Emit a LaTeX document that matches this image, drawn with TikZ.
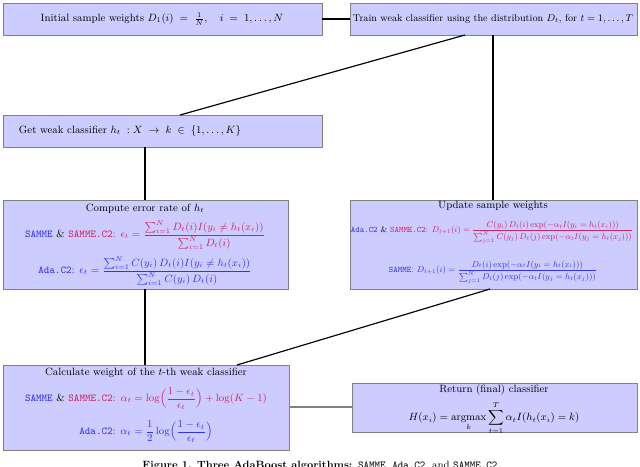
\documentclass[tikz,border=0pt]{standalone}
\usepackage{amsmath,graphicx}
\definecolor{bx}{HTML}{CCCCFF}
\definecolor{bd}{HTML}{808080}
\definecolor{cb}{HTML}{3333EE}
\definecolor{cr}{HTML}{CC2266}
\begin{document}
\begin{tikzpicture}[x=0.03cm,y=-0.03cm,
  box/.style={draw=bd,fill=bx,line width=0.8pt},
  lbl/.style={font=\small,inner sep=0pt},
  con/.style={line width=1pt}]
\useasboundingbox (0,0) rectangle (640,466);
\path[box] (3,3) rectangle (322,35);
\path[box] (350,3) rectangle (637,35);
\path[box] (3,115) rectangle (322,147);
\path[box] (3,200) rectangle (288,289);
\path[box] (350,200) rectangle (637,289);
\path[box] (3,365) rectangle (289,450);
\path[box] (352,383) rectangle (637,432);
\node[lbl] (t1) at (162,19) {Initial sample weights $D_1(i)\;=\;\frac{1}{N},\quad i\;=\;1,\ldots,N$};
\node[lbl] (t2) at (493,19) {\resizebox{8.4cm}{!}{Train weak classifier using the distribution $D_t$, for $t=1,\ldots,T$}};
\node[lbl] (t3) at (130,131) {Get weak classifier $h_t\;:X\;\rightarrow\;k\;\in\;\{1,\ldots,K\}$};
\node[lbl] (t4) at (145,209) {Compute error rate of $h_t$};
\node[lbl] (f4a) at (145,235) {\color{cb}\texttt{SAMME} \color{black}\& \color{cr}\texttt{SAMME.C2}: $\epsilon_t=\dfrac{\sum_{i=1}^N D_t(i)I(y_i\neq h_t(x_i))}{\sum_{i=1}^N D_t(i)}$};
\node[lbl] (f4b) at (145,271) {\color{cb}\texttt{Ada.C2}: $\epsilon_t=\dfrac{\sum_{i=1}^N C(y_i)\,D_t(i)I(y_i\neq h_t(x_i))}{\sum_{i=1}^N C(y_i)\,D_t(i)}$};
\node[lbl] (t5) at (493,206) {Update sample weights};
\node[lbl] (f5a) at (492,232) {\resizebox{8.46cm}{!}{\color{cb}\texttt{Ada.C2} \color{black}\& \color{cr}\texttt{SAMME.C2}: $D_{t+1}(i)=\dfrac{C(y_i)\,D_t(i)\exp(-\alpha_tI(y_i=h_t(x_i)))}{\sum_{j=1}^N C(y_j)\,D_t(j)\exp(-\alpha_tI(y_j=h_t(x_j)))}$}};
\node[lbl] (f5b) at (493,272) {\resizebox{6.24cm}{!}{\color{cb}\texttt{SAMME}: $D_{t+1}(i)=\dfrac{D_t(i)\exp(-\alpha_tI(y_i=h_t(x_i)))}{\sum_{j=1}^N D_t(j)\exp(-\alpha_tI(y_j=h_t(x_j)))}$}};
\node[lbl] (t6) at (146,373) {Calculate weight of the $t$-th weak classifier};
\node[lbl] (f6a) at (146,399) {\color{cb}\texttt{SAMME} \color{black}\& \color{cr}\texttt{SAMME.C2}: $\alpha_t=\log\Bigl(\dfrac{1-\epsilon_t}{\epsilon_t}\Bigr)+\log(K-1)$};
\node[lbl] (f6b) at (146,432) {\color{cb}\texttt{Ada.C2}: $\alpha_t=\dfrac12\log\Bigl(\dfrac{1-\epsilon_t}{\epsilon_t}\Bigr)$};
\node[lbl] (t7) at (494,390) {Return (final) classifier};
\node[lbl] (f7) at (494,418) {$H(x_i)=\operatorname*{argmax}\limits_k\displaystyle\sum_{t=1}^T\alpha_tI(h_t(x_i)=k)$};
\node[font=\small\bfseries,anchor=north] (cap) at (320,457) {Figure 1. Three AdaBoost algorithms: \textmd{\texttt{SAMME}, \texttt{Ada.C2}, and \texttt{SAMME.C2}}};
\coordinate (a1) at (322,19); \coordinate (a2) at (350,19);
\coordinate (a3) at (465,35); \coordinate (a4) at (180,115);
\coordinate (a5) at (145,147); \coordinate (a6) at (145,200);
\coordinate (a7) at (145,289); \coordinate (a8) at (145,365);
\coordinate (a9) at (493,35); \coordinate (a10) at (493,200);
\coordinate (a11) at (490,289); \coordinate (a12) at (237,365);
\coordinate (a13) at (289,407); \coordinate (a14) at (352,407);
\draw[con] (a1)--(a2); \draw[con] (a3)--(a4); \draw[con] (a5)--(a6);
\draw[con] (a7)--(a8); \draw[con] (a9)--(a10); \draw[con] (a11)--(a12);
\draw[con,bd] (a13)--(a14);
\end{tikzpicture}
\end{document}
